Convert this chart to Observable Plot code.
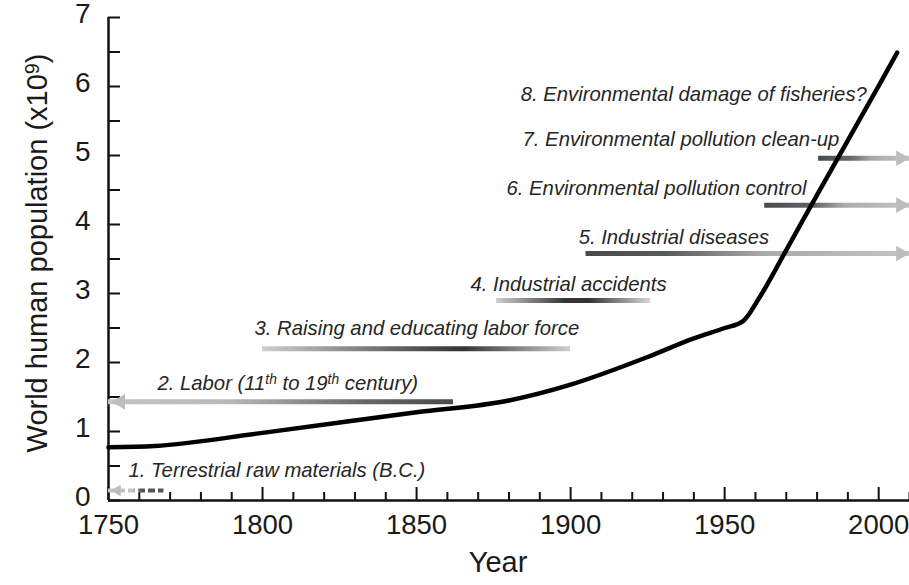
<!DOCTYPE html>
<html>
<head>
<meta charset="utf-8">
<script src="https://cdn.jsdelivr.net/npm/d3@7"></script>
<script src="https://cdn.jsdelivr.net/npm/@observablehq/plot@0.6"></script>
<style>
  html, body { margin: 0; padding: 0; background: #fff; }
  #chart { width: 909px; height: 585px; }
</style>
</head>
<body>
<div id="chart"></div>
<script>
// ---- Data ----
const years      = [1750, 1765, 1800, 1850, 1880, 1900, 1925, 1940, 1950, 1956, 1961, 1970, 1980, 1990, 2000, 2006];
const population = [0.77, 0.79, 0.98, 1.28, 1.45, 1.68, 2.08, 2.35, 2.50, 2.60, 2.92, 3.63, 4.43, 5.22, 6.01, 6.49];

const labelTexts = [
  "1. Terrestrial raw materials (B.C.)",
  "2. Labor (11th to 19th century)",
  "3. Raising and educating labor force",
  "4. Industrial accidents",
  "5. Industrial diseases",
  "6. Environmental pollution control",
  "7. Environmental pollution clean-up",
  "8. Environmental damage of fisheries?"
];
const labelYear  = [1756.5, 1765.9, 1797.4, 1867.5, 1902.6, 1879.2, 1884.4, 1883.8];
const labelValue = [0.43, 1.70, 2.49, 3.13, 3.81, 4.52, 5.23, 5.88];

const barIds    = [1, 2, 3, 4, 5, 6, 7];
const barStart  = [1750, 1750, 1800, 1876, 1905, 1963, 1980.5];
const barEnd    = [1768, 1862, 1900, 1926, 2010, 2010, 2010];
const barValue  = [0.145, 1.43, 2.20, 2.90, 3.58, 4.28, 4.96];
const headDir   = ["left", "left", null, null, "right", "right", "right"];

const xMajorTicks = [1750, 1800, 1850, 1900, 1950, 2000];
const xMinorTicks = [1760, 1770, 1780, 1790, 1810, 1820, 1830, 1840, 1860, 1870, 1880, 1890,
                     1910, 1920, 1930, 1940, 1960, 1970, 1980, 1990, 2010];
const yMajorTicks = [0, 1, 2, 3, 4, 5, 6, 7];
const yAllTicks   = [0, 0.5, 1, 1.5, 2, 2.5, 3, 3.5, 4, 4.5, 5, 5.5, 6, 6.5, 7];

const yTitle = "World human population (x10⁹)";
const xTitle = "Year";

// ---- Styles (gradient stops per bar) ----
const LIGHT = "#c4c4c4", DARK = "#4a4a4a", DARKER = "#333";
const gradientStops = {
  1: [[0, LIGHT], [0.45, LIGHT], [0.6, "#555"], [1, "#555"]],
  2: [[0, LIGHT], [0.35, "#b8b8b8"], [0.75, "#666"], [1, DARK]],
  3: [[0, "#cfcfcf"], [0.5, "#555"], [0.65, DARKER], [1, "#cfcfcf"]],
  4: [[0, "#cfcfcf"], [0.45, DARKER], [0.6, "#333"], [1, "#d8d8d8"]],
  5: [[0, DARK], [0.25, "#5a5a5a"], [0.55, "#aaa"], [1, "#c4c4c4"]],
  6: [[0, DARK], [0.35, "#666"], [0.55, "#aaa"], [1, "#c4c4c4"]],
  7: [[0, DARK], [0.35, "#666"], [0.6, "#aaa"], [1, "#c4c4c4"]]
};

// ---- Build tables ----
const pop = years.map((x, i) => ({x, y: population[i]}));
const labels = labelTexts.map((t, i) => ({text: t, x: labelYear[i], y: labelValue[i]}));
const bars = barIds.map((id, i) => ({id, x1: barStart[i], x2: barEnd[i], y: barValue[i], dir: headDir[i]}));

const FONT = "'Liberation Sans', Arial, Helvetica, sans-serif";

const headMarks = bars.filter(b => b.dir).map(b =>
  Plot.dot([b], {
    x: b.dir === "left" ? "x1" : "x2",
    y: "y",
    symbol: "triangle",
    r: b.id === 1 ? 4.2 : 5.8,
    rotate: b.dir === "left" ? -90 : 90,
    dx: b.dir === "left" ? (b.id === 1 ? 9 : 12) : -8.8,
    fill: "#bdbdbd",
    stroke: "none"
  })
);

const barMarks = bars.map(b =>
  Plot.ruleY([b], {
    y: "y", x1: "x1", x2: "x2",
    stroke: `url(#bar${b.id})`,
    strokeWidth: b.id === 1 ? 4 : 5,
    strokeDasharray: b.id === 1 ? "7,3" : null
  })
);

const plot = Plot.plot({
  width: 909,
  height: 585,
  marginLeft: 108,
  marginRight: 0,
  marginTop: 17,
  marginBottom: 85,
  x: {domain: [1750, 2010], label: null},
  y: {domain: [0, 7], label: null},
  style: {fontFamily: FONT, background: "#fff", color: "#111", overflow: "visible"},
  marks: [
    Plot.axisX({ticks: xMinorTicks, tickSize: -8, tickFormat: () => "", strokeWidth: 2, label: null}),
    Plot.axisX({ticks: xMajorTicks, tickSize: -13, tickFormat: () => "", strokeWidth: 2, label: null}),
    Plot.axisX({ticks: xMajorTicks, tickSize: 0, tickPadding: 14, fontSize: 27.5, tickFormat: d => String(d), label: null, fill: "#1a1a1a"}),
    Plot.axisY({ticks: yAllTicks, tickSize: -12, tickFormat: () => "", strokeWidth: 2, label: null}),
    Plot.axisY({ticks: yMajorTicks, tickSize: 0, tickPadding: 18, fontSize: 28, dy: -3, tickFormat: d => String(d), label: null, fill: "#1a1a1a"}),
    Plot.ruleX([1750], {strokeWidth: 2.5, stroke: "#111"}),
    Plot.ruleY([0], {strokeWidth: 2.5, stroke: "#111"}),
    ...barMarks,
    ...headMarks,
    Plot.text(labels, {
      x: "x", y: "y", text: "text",
      textAnchor: "start", fontSize: 20.3, fontStyle: "italic", fill: "#262626"
    }),
    Plot.text([yTitle], {frameAnchor: "left", textAnchor: "middle", rotate: -90, dx: -71, dy: -6, fontSize: 29, fill: "#1a1a1a"}),
    Plot.text([xTitle], {frameAnchor: "bottom", dy: 71, dx: -11, fontSize: 29, fill: "#1a1a1a"}),
    Plot.line(pop, {x: "x", y: "y", stroke: "#000", strokeWidth: 4.5, curve: "monotone-x"})
  ]
});

// ---- Gradients for the bars, positioned with the plot's own x scale ----
const NS = "http://www.w3.org/2000/svg";
const xs = plot.scale("x");
const defs = document.createElementNS(NS, "defs");
bars.forEach(b => {
  const g = document.createElementNS(NS, "linearGradient");
  g.setAttribute("id", `bar${b.id}`);
  g.setAttribute("gradientUnits", "userSpaceOnUse");
  g.setAttribute("x1", xs.apply(b.x1));
  g.setAttribute("x2", xs.apply(b.x2));
  g.setAttribute("y1", 0);
  g.setAttribute("y2", 0);
  gradientStops[b.id].forEach(([o, c]) => {
    const s = document.createElementNS(NS, "stop");
    s.setAttribute("offset", o);
    s.setAttribute("stop-color", c);
    g.appendChild(s);
  });
  defs.appendChild(g);
});
plot.insertBefore(defs, plot.firstChild);

// ---- Superscripts as real text ----
function rebuild(textEl, parts) {
  while (textEl.firstChild) textEl.removeChild(textEl.firstChild);
  parts.forEach(([str, sup]) => {
    const t = document.createElementNS(NS, "tspan");
    t.textContent = str;
    if (sup === 1) { t.setAttribute("dy", "-0.42em"); t.setAttribute("font-size", "68%"); }
    if (sup === -1) { t.setAttribute("dy", "0.29em"); }
    textEl.appendChild(t);
  });
}
plot.querySelectorAll("text").forEach(el => {
  const s = el.textContent;
  if (s === labelTexts[1]) {
    rebuild(el, [["2. Labor (11", 0], ["th", 1], [" to 19", -1], ["th", 1], [" century)", -1]]);
  } else if (s === yTitle) {
    rebuild(el, [["World human population (x10", 0], ["9", 1], [")", -1]]);
  }
});

document.getElementById("chart").appendChild(plot);
</script>
</body>
</html>
